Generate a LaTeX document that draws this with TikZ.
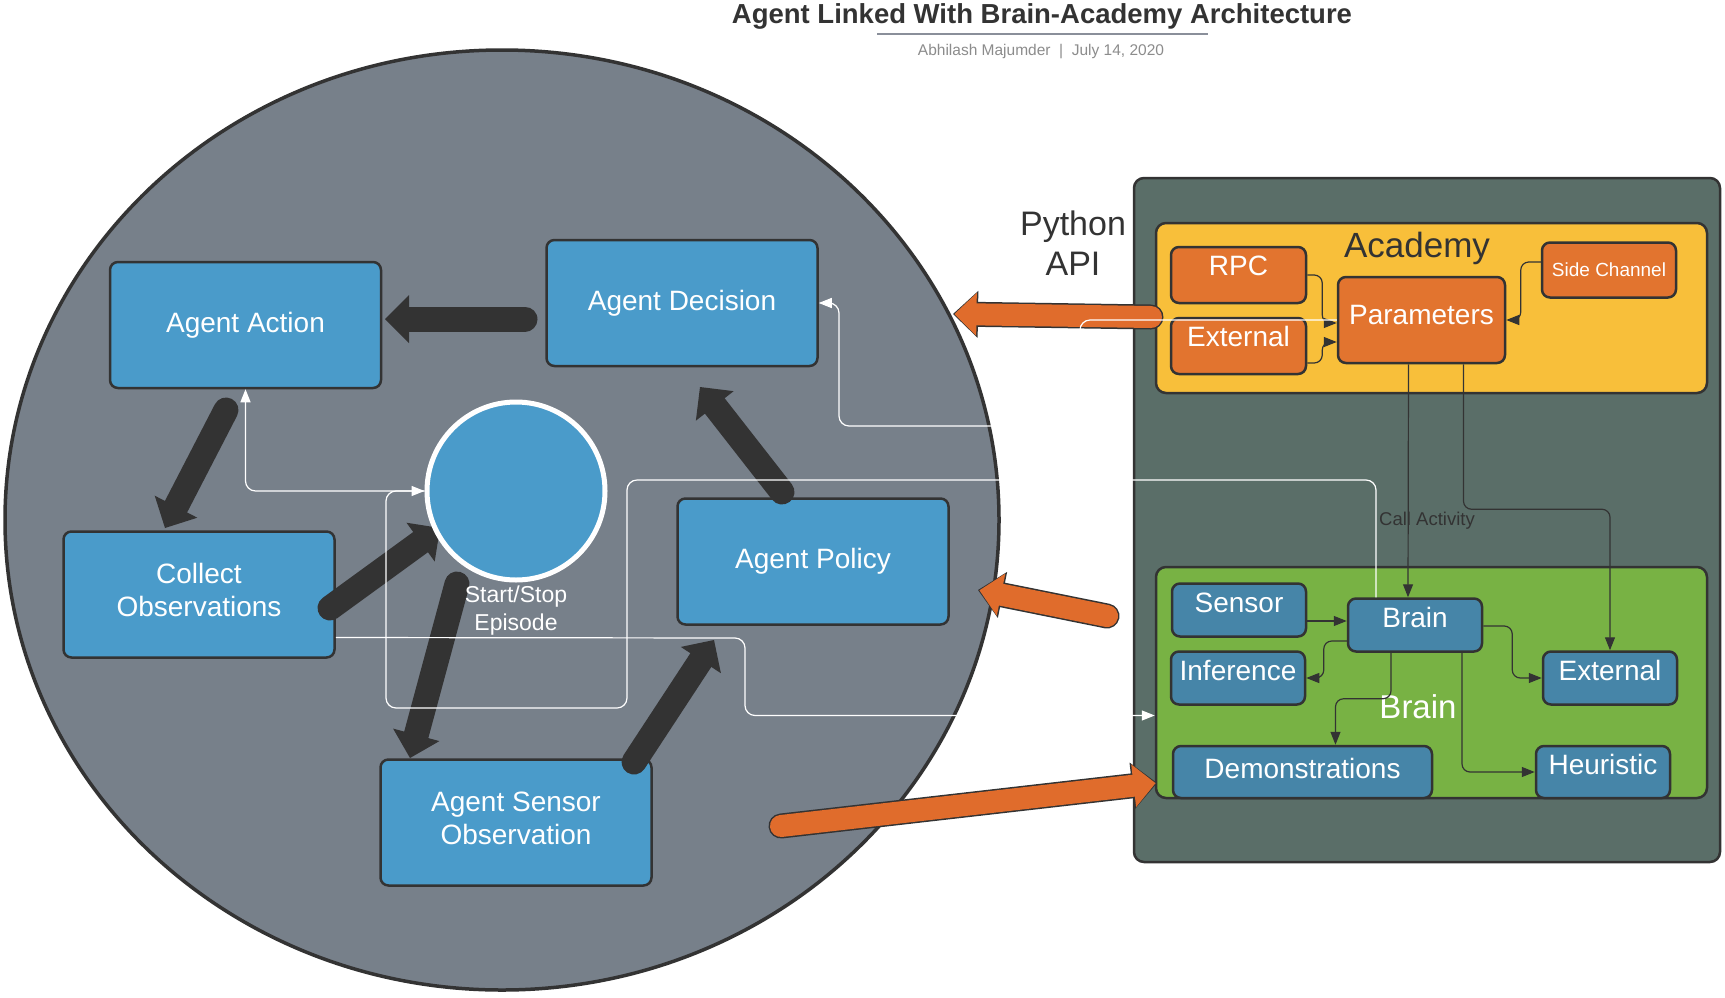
\documentclass[tikz,border=0pt]{standalone}
\usepackage{fontspec}
\setmainfont{Liberation Sans}
\usetikzlibrary{arrows.meta}
\definecolor{inkgray}{HTML}{333333}
\definecolor{rulegray}{HTML}{8A8F9A}
\definecolor{bylinegray}{HTML}{8C8C8C}
\definecolor{agentgray}{HTML}{77808A}
\definecolor{agentblue}{HTML}{4A9BCA}
\definecolor{panelgreen}{HTML}{5A6E68}
\definecolor{academyyellow}{HTML}{F8BF3A}
\definecolor{paramorange}{HTML}{E2742F}
\definecolor{brainleaf}{HTML}{78B244}
\definecolor{brainblue}{HTML}{4685A8}
\definecolor{fatorange}{HTML}{E06C2C}

\begin{document}
\begin{tikzpicture}[x=1pt, y=-1pt,
    agentbox/.style={draw=inkgray, line width=2.5pt, fill=agentblue, rounded corners=8pt,
        minimum width=271pt, minimum height=126pt, text=white, align=center,
        font=\fontsize{28pt}{33pt}\selectfont},
    academybox/.style={draw=inkgray, line width=2.5pt, fill=paramorange, rounded corners=8pt,
        minimum width=135pt, minimum height=56pt, inner sep=2pt, text=white,
        font=\fontsize{28pt}{33pt}\selectfont},
    brainbox/.style={draw=inkgray, line width=2.5pt, fill=brainblue, rounded corners=8pt,
        minimum width=134pt, minimum height=53pt, inner sep=2pt, text=white,
        font=\fontsize{28pt}{33pt}\selectfont},
    lifted/.style={text height=20pt, text depth=#1},
    lifted/.default=16pt,
    fatarrow/.style={draw=inkgray, line width=25pt, line cap=round,
        -{Triangle[width=48pt, length=24pt, line width=0pt]}},
    orangeedge/.style={draw=inkgray, line width=25pt, line cap=round,
        -{Triangle[width=47pt, length=25pt, line width=0pt]}},
    orangebody/.style={draw=fatorange, line width=22pt, line cap=round, shorten >=1.5pt,
        -{Triangle[width=43pt, length=22pt, line width=0pt]}},
    darklink/.style={draw=inkgray, line width=1.2pt, rounded corners=8pt,
        -{Triangle[width=10pt, length=13pt]}},
    whitelink/.style={draw=white, line width=1.2pt, rounded corners=10pt,
        -{Triangle[width=10pt, length=13pt]}}
]
    % Page
    \useasboundingbox (0,0) rectangle (1725,997);
    \fill[white] (0,0) rectangle (1725,997);

    % Title
    \node[font=\bfseries\fontsize{27.5pt}{33pt}\selectfont, text=inkgray] (title) at (1042,16)
        {Agent Linked With Brain-Academy Architecture};
    \draw[rulegray, line width=1.5pt] (877,34) -- (1208,34);
    \node[font=\fontsize{15.5pt}{18pt}\selectfont, text=bylinegray] (byline) at (1041,52)
        {Abhilash Majumder\ \ |\ \ July 14, 2020};

    % Agent side
    \draw[draw=inkgray, fill=agentgray, line width=3.5pt] (502,520) ellipse [x radius=497pt, y radius=470pt];

    % Python side
    \node[draw=inkgray, line width=2.5pt, fill=panelgreen, rounded corners=10pt,
        minimum width=586pt, minimum height=684pt] (pythonside) at (1427,520) {};
    \node[draw=inkgray, line width=2.5pt, fill=academyyellow, rounded corners=10pt,
        minimum width=551pt, minimum height=170pt] (academyzone) at (1431.5,308) {};
    \node[draw=inkgray, line width=2.5pt, fill=brainleaf, rounded corners=10pt,
        minimum width=551pt, minimum height=231pt] (brainzone) at (1431.5,682.5) {};
    \node[font=\fontsize{34pt}{40pt}\selectfont, text=inkgray, align=center] (pyapi) at (1073,243) {Python\\API};

    % Ends of the block arrows
    \coordinate (decisionout) at (525,319);  \coordinate (actionin) at (385,319);
    \coordinate (actionout) at (226,410);    \coordinate (collectin) at (165,528);
    \coordinate (collectout) at (330,608);   \coordinate (episodein) at (440,528);
    \coordinate (episodeout) at (457,584);   \coordinate (sensorin) at (410,758);
    \coordinate (sensorout) at (634,762);    \coordinate (policyin) at (714,640);
    \coordinate (policyout) at (782,492);    \coordinate (decisionin) at (700,387);
    \coordinate (academyout) at (1151,317);  \coordinate (agentin) at (953,314);
    \coordinate (brainout) at (1107,616);    \coordinate (policyhit) at (978,590);
    \coordinate (agentout) at (781,826);     \coordinate (brainin) at (1157,783);

    % Orange block arrows
    \foreach \a/\b in {academyout/agentin, brainout/policyhit, agentout/brainin} {
        \draw[orangeedge] (\a) -- (\b);
        \draw[orangebody] (\a) -- (\b);
    }

    % Agent boxes
    \node[agentbox] (action) at (245.5,325) {Agent Action};
    \node[agentbox] (decision) at (682,303) {Agent Decision};
    \node[agentbox, text depth=10pt] (collect) at (199,594.5) {Collect\\Observations};
    \node[agentbox] (policy) at (813,561.5) {Agent Policy};
    \node[agentbox, text depth=9pt] (sensorobs) at (516,822.5) {Agent Sensor\\Observation};

    % Dark block arrows of the agent loop
    \foreach \a/\b in {decisionout/actionin, actionout/collectin, collectout/episodein,
                       episodeout/sensorin, sensorout/policyin, policyout/decisionin}
        \draw[fatarrow] (\a) -- (\b);

    % Start/Stop
    \node[circle, draw=white, line width=5pt, fill=agentblue, minimum size=178pt] (episode) at (516,491) {};
    \node[text=white, align=center, font=\fontsize{23pt}{28pt}\selectfont] (episodelabel) at (516,611)
        {Start/Stop\\Episode};

    % Academy
    \node[font=\fontsize{35pt}{40pt}\selectfont, text=inkgray] (academylabel) at (1417,248) {Academy};
    \node[academybox, lifted=20pt] (rpc) at (1238.5,275) {RPC};
    \node[academybox, lifted=19pt] (academyext) at (1238.5,346) {External};
    \node[academybox, lifted=12pt, minimum width=167pt, minimum height=86pt] (params) at (1421.5,320) {Parameters};
    \node[academybox, minimum width=134pt, minimum height=55pt,
        font=\fontsize{19pt}{22pt}\selectfont] (sidechannel) at (1609,270) {Side Channel};

    % Brain
    \node[font=\fontsize{33pt}{38pt}\selectfont, text=white] (brainlabel) at (1418,707) {Brain};
    \node[brainbox, lifted] (sensor) at (1239,610) {Sensor};
    \node[brainbox, lifted] (brainbox) at (1415,625) {Brain};
    \node[brainbox, lifted] (inference) at (1238,678) {Inference};
    \node[brainbox, lifted] (brainext) at (1610,678) {External};
    \node[brainbox, lifted=8pt, minimum width=259pt, minimum height=52pt] (demos) at (1302.5,772) {Demonstrations};
    \node[brainbox, lifted, minimum height=52pt] (heuristic) at (1603,772) {Heuristic};
    \node[font=\fontsize{18.5pt}{22pt}\selectfont, text=inkgray] (callactivity) at (1427,521) {Call Activity};

    % Links inside the Python side
    \draw[darklink] (rpc.east) -- ++(15,0) |- ([yshift=-3pt]params.west);
    \draw[darklink] ([yshift=-17pt]academyext.east) -- ++(15,0) |- ([yshift=-22pt]params.west);
    \draw[darklink] ([yshift=8pt]sidechannel.west) -- ++(-20,0) |- (params.east);
    \draw[darklink] ([xshift=-13pt]params.south) -- ([xshift=-7pt]brainbox.north);
    \draw[darklink] ([xshift=42pt]params.south) -- ++(0,145) -| (brainext.north);
    \draw[darklink] ([yshift=-11pt]sensor.east) -- ([yshift=4pt]brainbox.west);
    \draw[darklink] ([yshift=-16pt]brainbox.west) -- ++(-23,0) |- (inference.east);
    \draw[darklink] ([yshift=-1pt]brainbox.east) -- ++(29,0) |- (brainext.west);
    \draw[darklink] ([xshift=-24pt]brainbox.south) -- ++(0,46) -| ([xshift=33pt]demos.north);
    \draw[darklink] ([xshift=47pt]brainbox.south) |- (heuristic.west);

    % White links between the two sides
    \draw[whitelink] (params.west) -- (1080,320) |- (839,426) |- (decision.east);
    \draw[whitelink] ([xshift=-39pt]brainbox.north) |- (627,480) |- (386,708) |- (episode.west);
    \draw[whitelink] (episode.west) -| (action.south);
    \draw[whitelink] ([yshift=-43pt]collect.east) -- (745,638) |- ([yshift=-33pt]brainzone.west);
\end{tikzpicture}
\end{document}
